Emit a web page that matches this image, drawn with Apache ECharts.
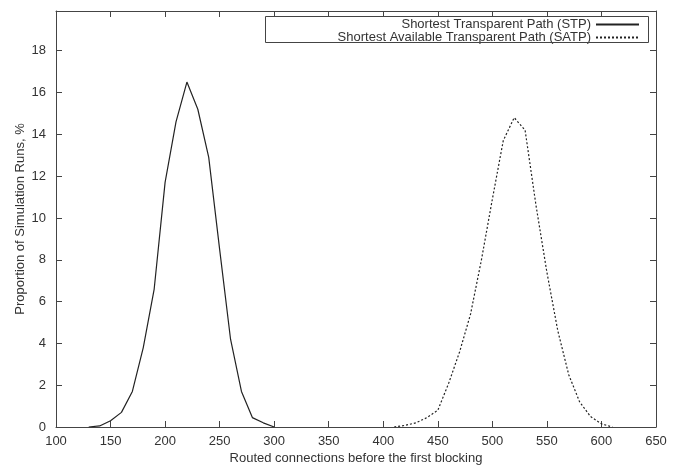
<!DOCTYPE html>
<html>
<head>
<meta charset="utf-8">
<script src="https://cdn.jsdelivr.net/npm/echarts@6/dist/echarts.min.js"></script>
<style>
  html, body { margin: 0; padding: 0; background: #fff; }
  #chart { width: 680px; height: 465px; }
</style>
</head>
<body>
<div id="chart"></div>
<script>
// Routed connections before the first blocking (bin centres) and share of runs, %
const stpConnections = [130, 140, 150, 160, 170, 180, 190, 200, 210, 220, 230, 240, 250, 260, 270, 280, 290, 300];
const stpShare       = [0, 0.05, 0.3, 0.7, 1.7, 3.8, 6.6, 11.7, 14.6, 16.5, 15.2, 12.9, 8.5, 4.2, 1.7, 0.45, 0.2, 0];

const satpConnections = [410, 420, 430, 440, 450, 460, 470, 480, 490, 500, 510, 520, 530, 540, 550, 560, 570, 580, 590, 600, 610];
const satpShare       = [0, 0.08, 0.2, 0.45, 0.8, 2.1, 3.6, 5.4, 8.0, 10.9, 13.7, 14.8, 14.2, 10.6, 7.4, 4.6, 2.5, 1.2, 0.5, 0.15, 0];

const seriesNames = ['Shortest Transparent Path (STP)', 'Shortest Available Transparent Path (SATP)'];
const xTitle = 'Routed connections before the first blocking';
const yTitle = 'Proportion of Simulation Runs, %';

const FONT = 'Liberation Sans';
const INK = '#222';
const FRAME = '#444';
const TEXT = '#333';

const pairs = (xs, ys) => xs.map((x, i) => [x, ys[i]]);

// fixed plot frame; labels and titles sit outside it
const grid = { left: 56, right: 24, top: 11, bottom: 38, outerBoundsMode: 'none', containLabel: false };

const xRange = { min: 100, max: 650, interval: 50 };
const yRange = { min: 0, max: 19.9, interval: 2 };

const tickStyle = { show: true, inside: true, length: 6, lineStyle: { color: FRAME, width: 1 } };
const frameLine = { show: true, onZero: false, lineStyle: { color: FRAME, width: 1 } };
const labelFont = { fontFamily: FONT, fontSize: 13, color: TEXT };
const titleFont = { fontFamily: FONT, fontSize: 13, color: TEXT };

// legend entries: line sample only, no marker
const legendEntry = (name, top) => ({
  data: [name], right: 40, top: top, padding: 0,
  align: 'right', itemWidth: 43, itemHeight: 10, itemGap: 0,
  itemStyle: { opacity: 0 },
  textStyle: { fontFamily: FONT, fontSize: 13, color: TEXT }
});

const chart = echarts.init(document.getElementById('chart'), null, { renderer: 'canvas' });

chart.setOption({
  animation: false,
  backgroundColor: '#fff',
  grid: grid,
  xAxis: [
    {
      type: 'value', position: 'bottom', ...xRange,
      name: xTitle, nameLocation: 'middle', nameGap: 25, nameMoveOverlap: false,
      nameTextStyle: titleFont,
      axisLine: frameLine, axisTick: tickStyle, splitLine: { show: false },
      axisLabel: { ...labelFont, margin: 8 }
    },
    {
      type: 'value', position: 'top', ...xRange,
      axisLine: frameLine, axisTick: tickStyle, splitLine: { show: false },
      axisLabel: { show: false }
    }
  ],
  yAxis: [
    {
      type: 'value', position: 'left', ...yRange,
      name: yTitle, nameLocation: 'middle', nameGap: 29, nameMoveOverlap: false,
      nameTextStyle: titleFont,
      axisLine: frameLine, axisTick: tickStyle, splitLine: { show: false },
      axisLabel: {
        ...labelFont, margin: 10,
        formatter: v => (Math.abs(v % 2) < 1e-9 ? String(v) : '')
      }
    },
    {
      type: 'value', position: 'right', ...yRange,
      axisLine: frameLine, axisTick: tickStyle, splitLine: { show: false },
      axisLabel: { show: false }
    }
  ],
  legend: [
    legendEntry(seriesNames[0], 18),
    legendEntry(seriesNames[1], 31)
  ],
  graphic: [
    {
      type: 'rect', silent: true, z: 5,
      shape: { x: 265.5, y: 16.5, width: 383, height: 26 },
      style: { fill: 'none', stroke: FRAME, lineWidth: 1 }
    }
  ],
  series: [
    {
      name: seriesNames[0], type: 'line', xAxisIndex: 0, yAxisIndex: 0,
      data: pairs(stpConnections, stpShare),
      symbol: 'none', smooth: false,
      lineStyle: { color: INK, width: 1.2, type: 'solid' },
      itemStyle: { color: INK }
    },
    {
      name: seriesNames[1], type: 'line', xAxisIndex: 0, yAxisIndex: 0,
      data: pairs(satpConnections, satpShare),
      symbol: 'none', smooth: false,
      lineStyle: { color: INK, width: 1.2, type: [2, 2] },
      itemStyle: { color: INK }
    }
  ]
});
</script>
</body>
</html>
